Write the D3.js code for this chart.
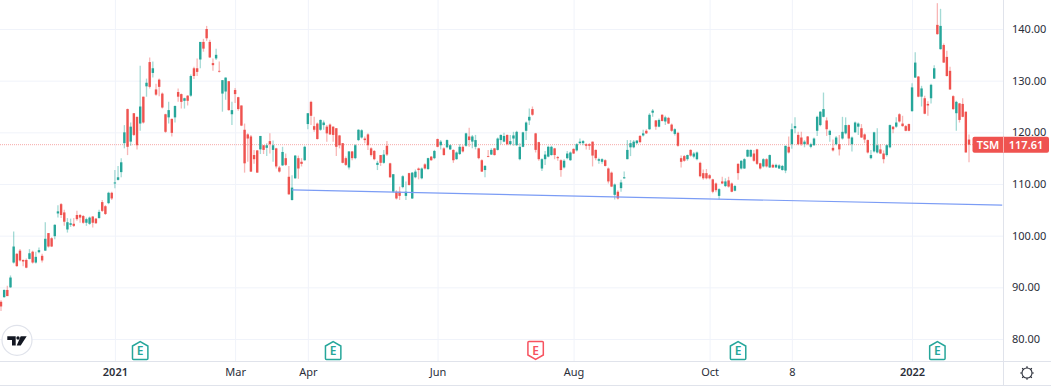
<!DOCTYPE html>
<html>
<head>
<meta charset="utf-8">
<script src="https://cdn.jsdelivr.net/npm/d3@7"></script>
<style>
  html, body { margin: 0; padding: 0; background: #fff; overflow: hidden; }
  svg { display: block; }
  text { font-family: "Noto Sans", "Open Sans", sans-serif; }
</style>
</head>
<body>
<svg id="chart" width="1051" height="386"></svg>
<script>
// daily candles. index 0 is the leftmost bar
const opens = [
  87.2,88.1,89.5,90.0,94.8,96.5,97.1,95.3,95.3,95.5,
  96.9,94.8,96.8,96.1,97.1,100.5,99.5,99.9,104.3,106.1,
  104.5,101.2,102.1,102.3,104.0,104.0,103.8,102.5,102.3,103.7,
  103.3,103.4,106.5,105.7,106.3,108.3,110.1,110.8,112.3,117.9,
  124.5,118.2,123.7,123.0,121.7,126.9,128.9,133.6,131.5,128.3,
  130.2,127.5,123.5,122.9,122.6,122.9,127.8,127.4,126.1,127.1,
  127.1,132.4,132.4,134.1,137.5,140.0,137.5,133.4,134.3,131.9,
  127.5,127.9,129.9,123.5,128.2,126.8,125.2,120.5,119.6,119.2,
  115.6,116.5,116.7,117.5,117.0,118.3,116.6,116.9,113.2,113.6,
  115.0,111.4,106.9,111.1,115.0,114.3,114.6,121.6,125.9,121.2,
  121.7,120.5,121.4,121.1,121.5,121.1,120.8,119.4,117.9,115.0,
  113.2,116.3,115.0,118.5,119.0,118.8,119.6,116.9,116.4,113.7,
  115.6,114.1,117.4,114.0,108.5,108.5,108.5,109.4,107.7,112.1,
  107.2,111.3,113.0,111.1,113.8,112.9,115.3,115.0,118.7,117.5,
  116.9,117.1,116.7,116.6,114.8,115.8,117.2,117.4,119.2,118.2,
  117.2,116.9,114.6,112.7,115.4,115.7,116.9,116.6,118.5,118.2,
  119.5,117.7,118.8,117.5,114.8,117.2,120.3,122.3,124.5,119.8,
  118.1,113.0,114.8,115.3,115.6,116.9,115.2,114.6,113.2,115.0,
  114.6,116.8,116.5,117.9,117.9,117.7,117.7,118.2,116.6,114.5,
  114.3,114.6,113.0,112.2,107.9,108.5,109.2,111.1,114.8,117.1,
  117.1,117.9,119.3,119.4,120.3,120.6,123.8,122.3,121.1,123.4,
  122.1,122.8,121.5,119.7,119.9,115.0,115.4,114.8,116.6,115.3,
  114.8,114.1,112.1,112.1,111.7,110.9,110.1,107.7,110.5,109.6,
  110.7,110.1,108.7,113.9,113.0,113.0,115.3,115.3,115.9,116.7,
  114.0,113.4,114.8,113.2,113.7,113.2,113.0,112.7,112.6,117.2,
  117.7,120.8,119.5,119.0,117.7,119.2,117.2,117.5,120.3,121.4,
  123.0,122.3,119.5,117.0,117.7,117.7,118.8,119.8,121.4,117.7,
  120.0,121.1,120.8,119.6,118.5,115.0,116.3,116.1,116.7,115.9,
  115.6,117.1,121.1,121.1,123.5,121.7,121.2,121.6,124.1,130.6,
  130.8,126.9,126.6,125.5,126.6,130.4,140.8,136.1,136.9,134.6,
  131.9,127.0,123.7,125.6,125.5,124.0,118.6
];
const highs = [
  87.5,89.6,90.3,92.3,100.8,96.6,97.4,95.4,95.6,97.4,
  97.1,96.9,97.7,96.5,102.6,100.5,99.7,102.2,105.9,106.3,
  105.0,103.4,103.3,103.4,104.8,104.2,104.0,103.5,103.7,103.8,
  103.4,105.0,106.9,105.9,108.5,108.5,112.7,113.5,115.0,121.4,
  124.6,121.9,123.7,123.0,132.9,126.9,130.4,134.5,133.7,129.4,
  130.4,127.7,123.6,125.9,122.7,125.2,128.5,127.5,126.7,127.2,
  131.2,132.7,134.3,137.5,138.1,140.6,137.9,134.3,136.2,133.7,
  130.1,130.6,129.9,125.9,128.6,126.9,125.2,121.7,119.8,119.5,
  116.6,116.6,119.3,117.5,117.9,119.8,118.4,117.0,113.5,117.2,
  115.9,113.5,111.7,115.6,115.5,115.0,117.4,123.7,126.1,123.0,
  121.9,122.5,122.3,121.4,121.7,121.2,120.8,119.5,117.9,115.3,
  116.4,116.4,117.7,120.6,120.6,119.2,119.8,117.1,116.6,114.5,
  115.6,116.6,118.3,114.1,111.9,108.8,109.5,111.7,110.5,112.2,
  112.3,112.8,113.2,113.2,114.0,115.1,115.4,116.6,118.8,118.5,
  117.1,118.6,117.7,116.7,116.3,117.7,117.5,119.9,120.9,119.5,
  119.5,117.0,114.8,113.7,116.6,116.9,117.0,119.0,119.6,119.9,
  119.6,119.5,120.1,120.3,117.9,120.1,122.1,124.6,125.0,119.9,
  118.2,115.0,116.4,117.4,117.4,117.0,115.4,114.8,114.8,116.4,
  116.3,116.9,117.9,118.8,118.5,117.9,117.9,118.2,116.7,115.1,
  115.0,114.8,113.2,112.4,110.1,108.8,110.8,112.4,118.5,118.5,
  118.5,118.5,119.5,120.5,120.6,123.7,124.5,122.4,122.7,123.5,
  123.2,123.0,121.7,120.8,120.1,115.5,115.6,115.7,116.7,116.2,
  116.3,114.3,112.8,112.9,111.9,111.0,110.3,109.2,111.4,111.1,
  111.4,110.3,109.8,114.0,114.6,115.0,116.7,116.7,116.6,116.8,
  114.1,115.0,115.0,115.7,113.9,113.9,113.8,113.7,117.4,119.2,
  121.7,122.9,120.1,120.1,118.5,119.3,118.0,119.0,123.2,124.1,
  127.7,122.9,120.5,118.6,119.3,119.5,123.0,122.9,121.5,119.2,
  122.1,121.9,121.6,119.8,118.6,116.6,120.1,120.8,117.7,116.5,
  117.7,121.5,121.2,122.9,123.7,123.2,121.4,121.7,129.5,135.5,
  130.9,129.0,127.1,126.0,129.4,133.0,145.0,143.9,137.2,135.8,
  132.7,127.2,126.1,125.7,126.6,124.0,119.6
];
const lows = [
  85.4,88.0,88.3,89.9,94.6,94.0,95.0,94.1,93.7,95.4,
  94.6,94.6,96.6,94.8,97.1,97.7,97.8,99.3,103.5,103.4,
  101.9,100.6,101.7,101.7,102.9,102.5,102.3,101.9,102.1,101.6,
  102.3,103.3,104.6,104.0,106.1,106.9,109.2,110.7,111.3,116.9,
  115.6,117.4,119.3,116.7,120.3,121.7,126.9,128.5,130.6,127.1,
  127.0,124.6,119.9,121.7,119.2,121.9,125.9,124.6,124.6,125.2,
  126.9,130.3,130.9,132.4,135.6,137.7,134.4,131.9,134.0,131.6,
  124.0,126.3,124.2,121.4,125.7,124.2,121.2,112.2,114.3,112.3,
  113.9,112.2,115.8,115.8,115.4,115.9,114.3,113.0,112.2,113.5,
  113.5,107.9,106.8,111.0,111.0,113.4,114.5,120.6,121.4,120.1,
  118.6,120.3,120.5,118.2,119.5,118.2,115.4,116.9,114.0,113.5,
  112.8,114.6,114.8,118.3,118.8,117.9,116.6,115.3,114.6,112.7,
  113.5,113.9,115.4,111.2,108.3,107.0,106.9,109.2,106.9,109.7,
  107.1,111.1,110.9,110.9,112.8,112.7,114.5,114.8,117.1,116.7,
  115.5,116.9,116.6,114.1,114.7,115.6,116.1,117.2,117.2,116.9,
  116.7,114.8,112.3,111.3,115.2,115.6,115.5,116.5,117.7,118.1,
  117.5,117.5,117.4,117.4,114.6,117.1,118.5,121.4,123.2,116.1,
  114.5,112.5,113.7,115.2,115.5,114.8,114.5,111.4,113.0,114.8,
  114.5,115.8,116.3,117.7,117.5,116.7,116.6,113.4,114.6,113.9,
  113.9,113.4,110.1,109.4,107.0,107.0,108.5,111.0,114.8,115.4,
  116.9,117.7,117.9,119.2,119.7,120.5,123.0,120.5,121.0,122.1,
  121.4,121.6,120.1,119.4,117.2,113.2,114.3,114.5,115.3,115.0,
  114.6,111.3,110.8,110.9,110.9,108.2,108.4,107.0,110.0,109.4,
  109.3,108.4,108.6,110.8,112.8,112.9,115.2,115.2,114.3,113.7,
  112.8,113.2,113.2,113.1,113.1,113.1,112.9,112.6,112.1,115.9,
  116.8,119.8,117.5,117.4,117.1,117.5,116.9,117.4,119.3,121.2,
  122.9,119.3,118.2,116.3,117.5,115.5,118.6,119.6,117.5,116.3,
  119.9,119.5,118.9,117.9,115.9,114.8,116.1,115.9,115.8,114.0,
  115.3,116.9,119.8,120.9,121.9,121.1,120.2,120.2,124.0,130.5,
  126.8,125.0,123.5,123.2,125.6,130.3,138.9,136.0,133.4,130.8,
  128.2,124.3,120.3,121.9,122.9,116.1,114.2
];
const closes = [
  86.3,89.5,88.3,91.9,97.9,94.1,95.2,95.0,93.8,96.6,
  94.8,95.9,97.2,95.2,99.4,97.9,97.9,102.1,104.7,104.0,
  102.7,102.6,102.4,101.9,103.2,103.5,102.5,103.2,103.5,102.5,
  102.4,104.6,104.8,104.2,108.3,107.2,110.3,111.3,114.2,120.0,
  117.2,121.1,119.5,117.5,125.0,121.9,129.6,128.8,132.4,127.3,
  128.8,124.8,120.1,124.3,119.9,125.1,126.9,125.9,126.6,126.1,
  130.9,130.9,131.7,137.5,136.2,138.2,134.5,133.0,135.0,131.8,
  130.1,130.6,124.3,124.3,127.4,124.5,121.3,114.0,118.8,112.4,
  114.8,112.2,119.3,116.6,117.5,117.7,117.5,113.4,112.4,116.2,
  113.7,108.0,109.3,115.5,113.0,113.9,117.2,123.7,123.2,120.5,
  118.7,122.4,121.9,119.8,119.6,119.5,117.2,117.5,114.1,113.7,
  116.3,115.0,117.5,120.5,120.4,118.5,117.5,115.6,114.8,114.1,
  114.1,115.7,115.7,111.3,111.9,107.2,107.7,111.5,108.5,109.8,
  112.2,112.4,112.7,113.0,113.0,115.0,114.6,116.4,117.2,118.2,
  115.6,118.5,117.5,114.6,116.1,117.2,116.3,119.8,118.5,119.2,
  118.5,115.0,112.4,113.5,115.3,116.6,115.6,118.8,119.5,119.3,
  117.7,118.3,119.4,120.1,117.2,120.0,121.9,123.0,123.4,116.6,
  114.8,114.8,115.7,117.2,117.2,115.6,115.0,112.7,114.5,115.9,
  116.1,115.9,117.7,118.2,118.3,117.4,117.4,115.5,115.0,114.8,
  114.8,113.5,110.5,109.5,109.9,107.2,110.3,111.3,116.6,117.9,
  118.2,118.4,118.1,119.8,119.8,123.4,124.2,121.1,122.4,122.2,
  122.9,121.7,120.3,120.6,117.4,114.3,114.5,115.6,115.5,115.9,
  116.1,111.5,111.1,111.1,111.1,108.5,108.8,109.0,110.1,110.5,
  109.5,108.5,109.6,112.1,114.5,114.8,116.6,116.6,114.5,113.9,
  113.0,114.8,113.4,115.6,113.2,113.7,113.6,113.5,117.4,116.1,
  120.6,121.2,117.7,117.7,118.2,117.7,117.7,118.8,123.0,124.0,
  124.5,120.6,120.3,116.5,119.0,116.7,120.1,121.4,118.8,119.0,
  121.9,121.7,119.0,118.6,116.1,115.6,120.0,117.5,115.9,114.8,
  117.5,121.4,120.6,121.9,122.1,121.2,120.3,120.3,128.7,133.5,
  126.9,128.5,123.6,125.2,129.2,132.4,139.0,140.6,133.5,130.9,
  128.3,124.5,125.9,122.4,123.0,116.1,117.61
];

const priceTicks = [80, 90, 100, 110, 120, 130, 140];
const timeTickBars = [36, 74, 97, 138, 181, 224, 250, 288];
const timeTickLabels = ["2021", "Mar", "Apr", "Jun", "Aug", "Oct", "8", "2022"];
const boldTicks = ["2021", "2022"];

const earningsBars = [44, 105, 169, 233, 296];
const earningsBeat = [true, true, false, true, true];

const trendBars = [92, 316.5];
const trendPrices = [108.86, 105.9];

const symbol = "TSM";
const lastPrice = closes[closes.length - 1];

const green = "#26a69a", red = "#ef5350";
const gridColor = "#f0f3fa", axisLine = "#e0e3eb", labelColor = "#2a2e39";

const width = 1051, height = 386;
const paneRight = 1003, paneBottom = 361;

const svg = d3.select("#chart");

// the source is a slightly soft screenshot, so soften the candles a touch
svg.append("defs").append("filter").attr("id", "soft")
    .append("feGaussianBlur").attr("stdDeviation", 0.3);

const x = d3.scaleLinear().domain([0, closes.length - 1]).range([1, 969]);
const y = d3.scaleLinear().domain([80, 140]).range([339, 29]);
const fmt = d3.format(".2f");

// grid first, under everything
svg.append("g")
    .attr("class", "grid-y")
    .attr("transform", "translate(" + paneRight + ",0)")
    .call(d3.axisLeft(y).tickValues(priceTicks).tickSize(paneRight).tickFormat(""))
    .call(g => g.select(".domain").remove())
    .selectAll("line").attr("stroke", gridColor);

svg.append("g")
    .attr("class", "grid-x")
    .attr("transform", "translate(0," + paneBottom + ")")
    .call(d3.axisTop(x).tickValues(timeTickBars).tickSize(paneBottom).tickFormat(""))
    .call(g => g.select(".domain").remove())
    .selectAll("line").attr("stroke", gridColor);

// last price line
svg.append("line")
    .attr("x1", 0).attr("x2", paneRight)
    .attr("y1", y(lastPrice)).attr("y2", y(lastPrice))
    .attr("stroke", red).attr("stroke-opacity", 0.5)
    .attr("stroke-dasharray", "1 1");

// candles
const bars = svg.append("g").attr("class", "candles")
    .attr("filter", "url(#soft)")
    .selectAll("g").data(closes).enter().append("g");

bars.append("line")
    .attr("x1", (d, i) => x(i)).attr("x2", (d, i) => x(i))
    .attr("y1", (d, i) => y(highs[i])).attr("y2", (d, i) => y(lows[i]))
    .attr("stroke", (d, i) => d >= opens[i] ? green : red)
    .attr("stroke-opacity", 0.42)
    .attr("stroke-width", 1.3);

bars.append("rect")
    .attr("x", (d, i) => x(i) - 1.2)
    .attr("width", 2.4)
    .attr("y", (d, i) => y(Math.max(d, opens[i])))
    .attr("height", (d, i) => Math.max(0.8, Math.abs(y(d) - y(opens[i]))))
    .attr("fill", (d, i) => d >= opens[i] ? green : red);

// support trend line
svg.append("path")
    .datum(trendBars)
    .attr("d", d3.line().x(d => x(d)).y((d, i) => y(trendPrices[i])))
    .attr("fill", "none")
    .attr("stroke", "#7b9cf5")
    .attr("stroke-width", 1.2);

// earnings flags
const flags = svg.append("g").attr("class", "earnings")
    .selectAll("g").data(earningsBars).enter().append("g")
    .attr("transform", d => "translate(" + x(d) + ",350.5)");

flags.append("path")
    .attr("d", (d, i) => earningsBeat[i]
        ? "M-7.7,-4.5L0,-9L7.7,-4.5L7.7,8Q7.7,9 6.7,9L-6.7,9Q-7.7,9 -7.7,8Z"
        : "M-7.7,-8Q-7.7,-9 -6.7,-9L6.7,-9Q7.7,-9 7.7,-8L7.7,4.5L0,9L-7.7,4.5Z")
    .attr("fill", "#fff")
    .attr("stroke", (d, i) => earningsBeat[i] ? green : "#f7525f")
    .attr("stroke-width", 1.5);

flags.append("text")
    .attr("text-anchor", "middle")
    .attr("y", 4.3)
    .attr("font-size", 12)
    .attr("font-weight", 600)
    .attr("fill", (d, i) => earningsBeat[i] ? green : "#f7525f")
    .text("E");

// pane borders, drawn over the marks
svg.append("rect").attr("x", paneRight).attr("y", 0).attr("width", width - paneRight).attr("height", paneBottom).attr("fill", "#fff");
svg.append("rect").attr("x", 0).attr("y", paneBottom).attr("width", width).attr("height", height - paneBottom).attr("fill", "#fff");

// price axis
svg.append("g")
    .attr("class", "axis-y")
    .attr("transform", "translate(" + paneRight + ",0)")
    .call(d3.axisRight(y).tickValues(priceTicks).tickSize(0).tickPadding(9).tickFormat(fmt))
    .call(g => g.select(".domain").remove())
    .selectAll("text")
    .attr("font-size", 11).attr("fill", labelColor);

// time axis
svg.append("g")
    .attr("class", "axis-x")
    .attr("transform", "translate(0," + paneBottom + ")")
    .call(d3.axisBottom(x).tickValues(timeTickBars).tickSize(0).tickPadding(7)
        .tickFormat((d, i) => timeTickLabels[i]))
    .call(g => g.select(".domain").remove())
    .selectAll("text")
    .attr("font-size", 11)
    .attr("font-weight", (d, i) => boldTicks.includes(timeTickLabels[i]) ? 600 : 400)
    .attr("fill", labelColor);

svg.append("line").attr("x1", 0).attr("x2", width).attr("y1", paneBottom + 0.5).attr("y2", paneBottom + 0.5).attr("stroke", axisLine);
svg.append("line").attr("x1", 0).attr("x2", width).attr("y1", 385.5).attr("y2", 385.5).attr("stroke", axisLine);
svg.append("line").attr("x1", paneRight + 0.5).attr("x2", paneRight + 0.5).attr("y1", 0).attr("y2", height).attr("stroke", axisLine);

// last price tag
const tag = svg.append("g").attr("class", "tag").attr("transform", "translate(0," + y(lastPrice) + ")");
tag.append("rect").attr("x", 972.5).attr("y", -8).attr("width", 76.5).attr("height", 16).attr("rx", 2).attr("fill", red);
tag.append("line").attr("x1", paneRight + 0.5).attr("x2", paneRight + 0.5).attr("y1", -8).attr("y2", 8).attr("stroke", "#f9b4b2");
tag.append("text").attr("x", 988).attr("y", 4).attr("text-anchor", "middle")
    .attr("font-size", 11).attr("font-weight", 600).attr("fill", "#fff").text(symbol);
tag.append("text").attr("x", 1026).attr("y", 4).attr("text-anchor", "middle")
    .attr("font-size", 11).attr("font-weight", 600).attr("fill", "#fff").text(fmt(lastPrice));

// tradingview badge
const logo = svg.append("g").attr("class", "logo").attr("transform", "translate(17,340.3)");
logo.append("circle").attr("r", 15).attr("fill", "#fff").attr("stroke", "#e0e3eb").attr("stroke-width", 1.2);
logo.append("path").attr("fill", "#131722")
    .attr("d", "M-9.7,-4H-1.3V5.3H-5V-0.3H-9.7Z M3.7,-4H9.7L3.7,5.3H-0.3Z");
logo.append("circle").attr("cx", 1).attr("cy", -2.3).attr("r", 1.7).attr("fill", "#131722");

// settings gear
const gear = svg.append("g").attr("class", "gear").attr("transform", "translate(1027,373)");
gear.append("circle").attr("r", 5).attr("fill", "none").attr("stroke", "#2a2e39").attr("stroke-width", 1.1);
d3.range(8).forEach(k => {
    const a = k * Math.PI / 4;
    gear.append("line")
        .attr("x1", 5 * Math.cos(a)).attr("y1", 5 * Math.sin(a))
        .attr("x2", 6.8 * Math.cos(a)).attr("y2", 6.8 * Math.sin(a))
        .attr("stroke", "#2a2e39").attr("stroke-width", 1.2);
});
</script>
</body>
</html>
